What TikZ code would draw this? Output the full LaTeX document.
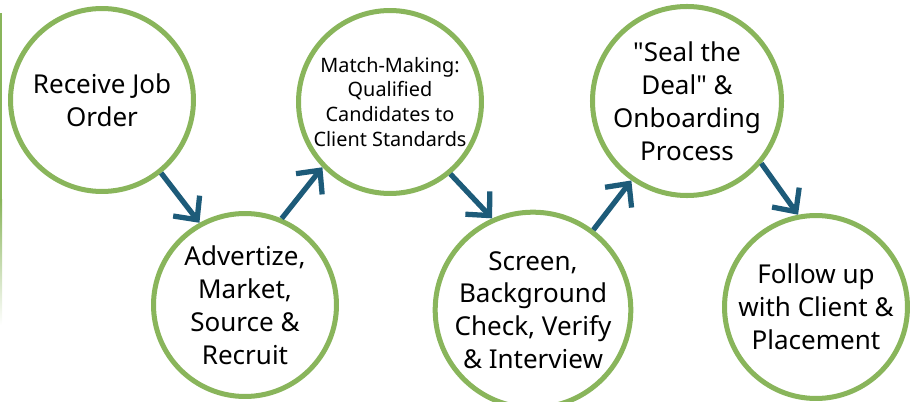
\documentclass[tikz,border=0pt]{standalone}
\usepackage{fontspec}
\setmainfont{Noto Sans}
\usetikzlibrary{arrows.meta}
\definecolor{leafgreen}{HTML}{89B55B}
\definecolor{tealblue}{HTML}{1D5B79}
\tikzset{
  stepcircle/.style={circle, draw=leafgreen, line width=2.85pt, fill=white,
    minimum size=3.66cm, inner sep=0pt, align=center,
    font=\fontsize{14.8}{18.7}\selectfont},
  smalltext/.style={font=\fontsize{11.3}{14.2}\selectfont},
  flow/.style={draw=tealblue, line width=3pt,
    -{Straight Barb[length=10pt, width=19pt, line width=3pt]}}
}
\begin{document}
\begin{tikzpicture}[x=0.02cm, y=-0.02cm]
\useasboundingbox (0,0) rectangle (910,402);
\fill[leafgreen] (0,13) rectangle (2,200); % edge of a circle off the page
\shade[top color=leafgreen, bottom color=white] (0,200) rectangle (2,325);
\node[stepcircle] (order) at (102,100) {Receive Job\\Order}; % step 1
\node[stepcircle] (advertize) at (245,305) {Advertize,\\Market,\\Source \&\\Recruit}; % step 2
\node[stepcircle, smalltext] (match) at (390,102) {Match-Making:\\Qualified\\Candidates to\\Client Standards}; % step 3
\node[stepcircle] (screen) at (533,310) {Screen,\\Background\\Check, Verify\\\& Interview}; % step 4
\node[stepcircle] (deal) at (687,101) {\textquotedbl Seal the\\Deal\textquotedbl{} \&\\Onboarding\\Process}; % step 5
\node[stepcircle] (follow) at (816,307) {Follow up\\with Client \&\\Placement}; % step 6
\draw[flow] (order.-51) -- (advertize.119);
\draw[flow] (advertize.67) -- (match.-136);
\draw[flow] (match.-50) -- (screen.114);
\draw[flow] (screen.53) -- (deal.-125);
\draw[flow] (deal.-40) -- (follow.101);
\end{tikzpicture}
\end{document}
